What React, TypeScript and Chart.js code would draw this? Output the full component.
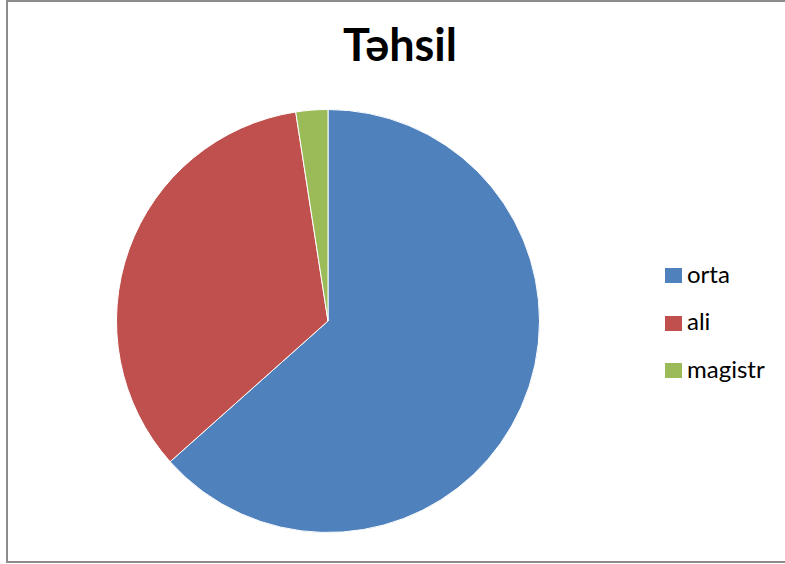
import React, { useEffect, useRef } from "react";
import { Chart, registerables } from "chart.js";

Chart.register(...registerables);

const title = "Təhsil";
const categories = ["orta", "ali", "magistr"];
const values = [26, 14, 1];
const colors = ["#4F81BD", "#C0504D", "#9BBB59"];

const FONT = "Lato, 'Open Sans', 'Noto Sans', sans-serif";

export default function App() {
  const ref = useRef<HTMLCanvasElement | null>(null);

  useEffect(() => {
    const canvas = ref.current;
    if (!canvas) return;
    const chart = new Chart(canvas, {
      type: "pie",
      data: {
        labels: categories,
        datasets: [
          {
            data: values,
            backgroundColor: colors,
            borderColor: "#ffffff",
            borderWidth: 1,
          },
        ],
      },
      options: {
        animation: false,
        responsive: false,
        devicePixelRatio: 1,
        layout: { padding: 0 },
        plugins: {
          legend: { display: false },
          title: { display: false },
          tooltip: { enabled: false },
        },
      },
    });
    return () => chart.destroy();
  }, []);

  const rows = [283, 330.5, 378];

  return (
    <div
      style={{
        position: "fixed",
        left: 0,
        top: 0,
        width: 785,
        height: 564,
        overflow: "hidden",
        background: "#ffffff",
        fontFamily: FONT,
      }}
    >
      <div
        style={{
          position: "absolute",
          left: 6,
          top: 0,
          width: 830,
          height: 559,
          borderTop: "2px solid #8c8c8c",
          borderLeft: "2px solid #8c8c8c",
          borderBottom: "2px solid #8c8c8c",
          borderRight: "none",
          background: "#ffffff",
        }}
      />
      <div
        style={{
          position: "absolute",
          left: 0,
          top: 22,
          width: 800,
          textAlign: "center",
          fontSize: 45,
          lineHeight: "45px",
          fontWeight: 700,
          color: "#000000",
          whiteSpace: "nowrap",
        }}
      >
        {title}
      </div>
      <canvas
        ref={ref}
        width={424}
        height={424}
        style={{ position: "absolute", left: 116, top: 109, width: 424, height: 424 }}
      />
      {categories.map((c, i) => (
        <React.Fragment key={c}>
          <div
            style={{
              position: "absolute",
              left: 665,
              top: rows[i] - 15,
              width: 17,
              height: 15,
              background: colors[i],
            }}
          />
          <div
            style={{
              position: "absolute",
              left: 687,
              top: rows[i] - 21.3,
              fontSize: 24,
              lineHeight: "24px",
              color: "#000000",
              whiteSpace: "nowrap",
            }}
          >
            {c}
          </div>
        </React.Fragment>
      ))}
    </div>
  );
}
